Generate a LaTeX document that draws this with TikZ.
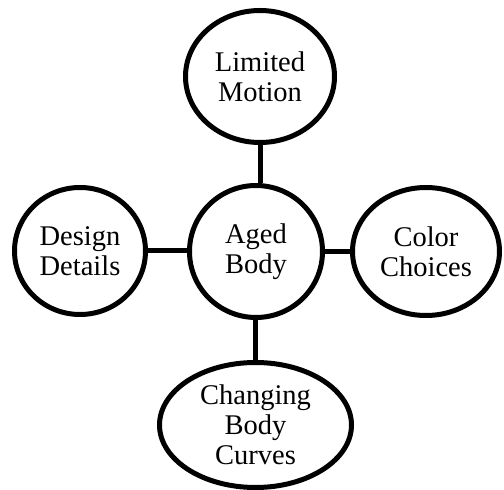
\documentclass[tikz,border=0pt]{standalone}
\usepackage{fontspec}
\setmainfont{Liberation Serif}
\usetikzlibrary{shapes.geometric}
\begin{document}
\begin{tikzpicture}[x=1pt,y=1pt,
  bubble/.style={ellipse,draw=black,line width=5pt,inner sep=0pt,align=center,
    font=\fontsize{28.5}{30}\selectfont},
  link/.style={draw=black,line width=5pt}]
\useasboundingbox (0,0) rectangle (504,490);
\node[bubble,minimum width=133pt,minimum height=132pt] (aged) at (256,238.5) {Aged\\Body};
\node[bubble,minimum width=149pt,minimum height=132pt] (limited) at (260,413.5) {Limited\\Motion};
\node[bubble,minimum width=131pt,minimum height=127pt] (design) at (80,239) {Design\\Details};
\node[bubble,minimum width=147pt,minimum height=128pt] (color) at (426,238.5) {Color\\Choices};
\node[bubble,minimum width=192pt,minimum height=125pt] (changing) at (255.5,65) {Changing\\Body\\Curves};
\draw[link] (limited.south) -- (limited.south |- aged.north);
\draw[link] (changing.north) -- (changing.north |- aged.south);
\draw[link] (design.east) -- (design.east -| aged.west);
\draw[link] (color.west) -- (color.west -| aged.east);
\end{tikzpicture}
\end{document}
